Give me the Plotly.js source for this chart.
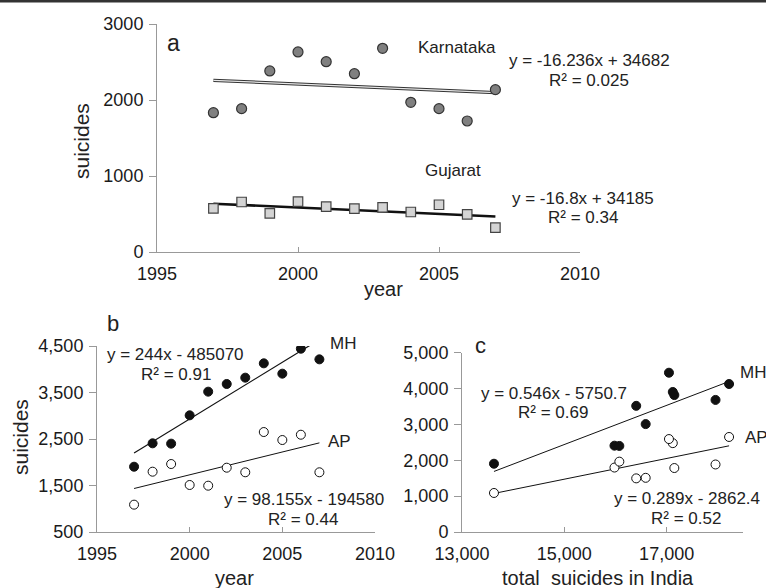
<!DOCTYPE html>
<html>
<head>
<meta charset="utf-8">
<script src="https://cdn.plot.ly/plotly-3.0.1.min.js"></script>
<style>html,body{margin:0;padding:0;background:#fff;}#chart{width:766px;height:588px;}</style>
</head>
<body>
<div id="chart"></div>
<script>
// ---------- data ----------
const years = [1997, 1998, 1999, 2000, 2001, 2002, 2003, 2004, 2005, 2006, 2007];
const karnataka = [1833, 1886, 2382, 2632, 2504, 2346, 2680, 1970, 1886, 1724, 2136];
const gujarat = [575, 658, 509, 662, 596, 570, 588, 526, 622, 496, 320];
const maharashtra = [1904, 2407, 2400, 3009, 3518, 3683, 3819, 4127, 3905, 4442, 4213];
const andhra = [1088, 1797, 1962, 1511, 1496, 1883, 1784, 2650, 2478, 2592, 1784];
// total suicides in India, 1997-2006
const indiaTotal = [13625, 15980, 16075, 16590, 16405, 17955, 17150, 18220, 17120, 17045];

// trend-line coefficients [slope, intercept] as printed on the chart
const trendKarnataka = [-16.236, 34682];
const trendGujarat = [-16.8, 34185];
const trendMHyear = [244, -485070];
const trendAPyear = [98.155, -194580];
const trendMHindia = [0.546, -5750.7];
const trendAPindia = [0.289, -2862.4];

const xTicksYear = [1995, 2000, 2005, 2010];
const yTicksA = [0, 1000, 2000, 3000];
const yTicksB = [500, 1500, 2500, 3500, 4500];
const xTicksC = [13000, 15000, 17000];
const yTicksC = [0, 1000, 2000, 3000, 4000, 5000];

// ---------- helpers ----------
const W = 766, H = 588;
function line(coef, xs) { return xs.map(x => coef[0] * x + coef[1]); }
const yrEnds = [years[0], years[years.length - 1]];
const indEnds = [Math.min(...indiaTotal), Math.max(...indiaTotal)];

const traces = [
  // panel a
  {x: yrEnds, y: line(trendKarnataka, yrEnds), xaxis: 'x', yaxis: 'y', mode: 'lines',
   line: {color: '#333', width: 3.2}, hoverinfo: 'skip'},
  {x: yrEnds, y: line(trendKarnataka, yrEnds), xaxis: 'x', yaxis: 'y', mode: 'lines',
   line: {color: '#e8e8e8', width: 1.2}, hoverinfo: 'skip'},
  {x: yrEnds, y: line(trendGujarat, yrEnds), xaxis: 'x', yaxis: 'y', mode: 'lines',
   line: {color: '#111', width: 2.6}, hoverinfo: 'skip'},
  {x: years, y: karnataka, xaxis: 'x', yaxis: 'y', mode: 'markers', name: 'Karnataka',
   marker: {symbol: 'circle', size: 10, color: '#808080', line: {color: '#333', width: 1.2}}},
  {x: years, y: gujarat, xaxis: 'x', yaxis: 'y', mode: 'markers', name: 'Gujarat',
   marker: {symbol: 'square', size: 9.5, color: '#d4d4d4', line: {color: '#444', width: 1.2}}},
  // panel b
  {x: yrEnds, y: line(trendMHyear, yrEnds), xaxis: 'x2', yaxis: 'y2', mode: 'lines',
   line: {color: '#111', width: 1.2}, hoverinfo: 'skip'},
  {x: yrEnds, y: line(trendAPyear, yrEnds), xaxis: 'x2', yaxis: 'y2', mode: 'lines',
   line: {color: '#111', width: 1}, hoverinfo: 'skip'},
  {x: years, y: maharashtra, xaxis: 'x2', yaxis: 'y2', mode: 'markers', name: 'MH',
   marker: {symbol: 'circle', size: 9, color: '#111', line: {color: '#111', width: 1}}},
  {x: years, y: andhra, xaxis: 'x2', yaxis: 'y2', mode: 'markers', name: 'AP',
   marker: {symbol: 'circle', size: 9, color: '#fff', line: {color: '#111', width: 1}}},
  // panel c
  {x: indEnds, y: line(trendMHindia, indEnds), xaxis: 'x3', yaxis: 'y3', mode: 'lines',
   line: {color: '#111', width: 1}, hoverinfo: 'skip'},
  {x: indEnds, y: line(trendAPindia, indEnds), xaxis: 'x3', yaxis: 'y3', mode: 'lines',
   line: {color: '#111', width: 1}, hoverinfo: 'skip'},
  {x: indiaTotal, y: maharashtra.slice(0, indiaTotal.length), xaxis: 'x3', yaxis: 'y3', mode: 'markers', name: 'MH',
   marker: {symbol: 'circle', size: 9, color: '#111', line: {color: '#111', width: 1}}},
  {x: indiaTotal, y: andhra.slice(0, indiaTotal.length), xaxis: 'x3', yaxis: 'y3', mode: 'markers', name: 'AP',
   marker: {symbol: 'circle', size: 9, color: '#fff', line: {color: '#111', width: 1}}}
];

function dom(a, b, total) { return [a / total, b / total]; }
function vdom(top, bottom) { return [(H - bottom) / H, (H - top) / H]; }

const axCommon = {showline: true, linecolor: '#999', linewidth: 1, showgrid: false, zeroline: false,
  tickcolor: '#999', tickfont: {size: 18, color: '#1a1a1a'}, fixedrange: true};

function xAx(extra) { return Object.assign({}, axCommon, {ticks: 'inside', ticklen: 5, ticklabelstandoff: 5}, extra); }
function yAx(extra) { return Object.assign({}, axCommon, {ticks: 'outside', ticklen: 7, ticklabelstandoff: 2}, extra); }

function ann(text, px, py, size, opts) {
  return Object.assign({text: text, xref: 'paper', yref: 'paper', x: px / W, y: 1 - py / H,
    xanchor: 'center', yanchor: 'middle', showarrow: false, font: {size: size, color: '#222'}}, opts || {});
}

const annotations = [
  ann('a', 173, 43, 23),
  ann('Karnataka', 457, 48, 17),
  ann('y = -16.236x + 34682', 589, 60, 17),
  ann('R² = 0.025', 589, 80, 17),
  ann('Gujarat', 453, 170, 17),
  ann('y = -16.8x + 34185', 583, 198, 17),
  ann('R² = 0.34', 583, 217, 17),
  ann('suicides', 81, 141, 21, {textangle: -90}),
  ann('year', 384, 289, 20),
  ann('b', 113, 323, 22),
  ann('MH', 343, 343, 17),
  ann('AP', 339, 442, 17),
  ann('y = 244x - 485070', 175, 354, 17),
  ann('R² = 0.91', 176, 374, 17),
  ann('y = 98.155x - 194580', 304, 500, 17),
  ann('R² = 0.44', 303, 519, 17),
  ann('suicides', 20, 437, 21, {textangle: -90}),
  ann('year', 235, 578, 20),
  ann('c', 480, 345, 22),
  ann('MH', 738, 372, 17, {xanchor: 'left'}),
  ann('AP', 743, 437, 17, {xanchor: 'left'}),
  ann('y = 0.546x - 5750.7', 554, 393, 17),
  ann('R² = 0.69', 553, 412, 17),
  ann('y = 0.289x - 2862.4', 687, 498, 17),
  ann('R² = 0.52', 686, 518, 17),
  ann('total  suicides in India', 598, 578, 20)
];

const layout = {
  width: W, height: H,
  margin: {l: 0, r: 0, t: 0, b: 0},
  paper_bgcolor: '#fff', plot_bgcolor: 'rgba(0,0,0,0)',
  font: {family: 'Liberation Sans, Arial, sans-serif', color: '#222'},
  showlegend: false,
  xaxis: xAx({domain: dom(157, 580, W), range: [1995, 2010], tickvals: xTicksYear, anchor: 'y'}),
  yaxis: yAx({domain: vdom(24, 252), range: [0, 3000], tickvals: yTicksA, anchor: 'x'}),
  xaxis2: xAx({domain: dom(97, 375, W), range: [1995, 2010], tickvals: xTicksYear, anchor: 'y2'}),
  yaxis2: yAx({domain: vdom(346, 532), range: [500, 4500], tickvals: yTicksB, tickformat: ',', anchor: 'x2'}),
  xaxis3: xAx({domain: dom(462, 743.4, W), range: [13000, 18500], tickvals: xTicksC, tickformat: ',', anchor: 'y3'}),
  yaxis3: yAx({domain: vdom(352.7, 532), range: [0, 5000], tickvals: yTicksC, tickformat: ',', anchor: 'x3'}),
  annotations: annotations,
  shapes: [{type: 'line', xref: 'paper', yref: 'paper', x0: 0, x1: 1, y0: 1 - 1.2 / H, y1: 1 - 1.2 / H,
    line: {color: '#333', width: 2.4}}]
};

Plotly.newPlot('chart', traces, layout, {displayModeBar: false, staticPlot: true});
</script>
</body>
</html>
